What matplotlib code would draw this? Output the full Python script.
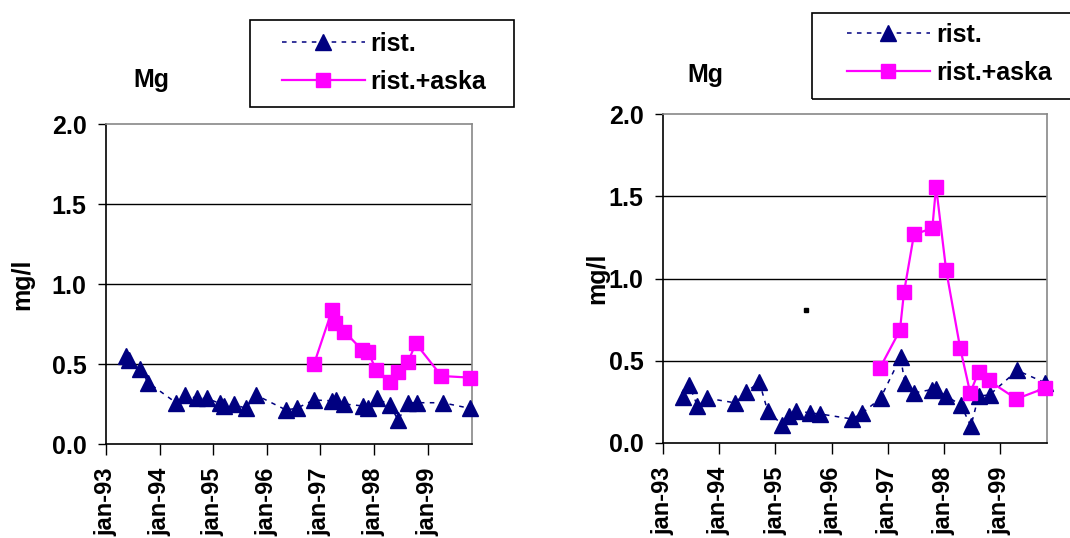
import matplotlib
matplotlib.use("Agg")
import matplotlib.pyplot as plt
from matplotlib.patches import Rectangle

plt.rcParams["font.family"] = ["Liberation Sans", "DejaVu Sans"]
plt.rcParams["font.weight"] = "bold"

# values, x in decimal years
left_rist_x = [1993.37, 1993.435, 1993.634, 1993.79, 1994.306, 1994.474, 1994.704,
               1994.878, 1995.127, 1995.208, 1995.394, 1995.606, 1995.80, 1996.358,
               1996.557, 1996.88, 1997.21, 1997.29, 1997.44, 1997.79, 1997.89,
               1998.05, 1998.30, 1998.45, 1998.64, 1998.80, 1999.28, 1999.79]
left_rist_y = [0.55, 0.525, 0.467, 0.383, 0.258, 0.306, 0.285,
               0.285, 0.254, 0.238, 0.248, 0.223, 0.306, 0.213,
               0.223, 0.275, 0.27, 0.275, 0.25, 0.238, 0.223,
               0.285, 0.244, 0.15, 0.258, 0.258, 0.258, 0.223]
left_aska_x = [1996.88, 1997.22, 1997.28, 1997.45, 1997.78, 1997.89, 1998.04,
               1998.30, 1998.45, 1998.64, 1998.78, 1999.26, 1999.79]
left_aska_y = [0.498, 0.838, 0.754, 0.702, 0.588, 0.577, 0.463,
               0.39, 0.452, 0.515, 0.629, 0.425, 0.415]

right_rist_x = [1993.357, 1993.464, 1993.613, 1993.79, 1994.286, 1994.476, 1994.714,
                1994.863, 1995.119, 1995.238, 1995.369, 1995.607, 1995.786, 1996.363,
                1996.548, 1996.869, 1997.226, 1997.30, 1997.47, 1997.78, 1997.857,
                1998.036, 1998.298, 1998.476, 1998.613, 1998.81, 1999.30, 1999.80]
right_rist_y = [0.278, 0.354, 0.224, 0.272, 0.244, 0.309, 0.370,
                0.193, 0.112, 0.163, 0.197, 0.183, 0.177, 0.146,
                0.183, 0.272, 0.522, 0.366, 0.305, 0.325, 0.329,
                0.285, 0.232, 0.102, 0.285, 0.293, 0.441, 0.366]
right_aska_x = [1996.857, 1997.214, 1997.286, 1997.464, 1997.79, 1997.857, 1998.036,
                1998.286, 1998.464, 1998.613, 1998.79, 1999.286, 1999.786]
right_aska_y = [0.455, 0.685, 0.915, 1.268, 1.305, 1.559, 1.051,
                0.577, 0.305, 0.431, 0.380, 0.268, 0.333]

# stray dot in the right chart
stray_x = [1995.54]
stray_y = [0.81]

year_ticks = [1993, 1994, 1995, 1996, 1997, 1998, 1999]
year_labels = ["jan-93", "jan-94", "jan-95", "jan-96", "jan-97", "jan-98", "jan-99"]
y_ticks = [0.0, 0.5, 1.0, 1.5, 2.0]
series_names = ["rist.", "rist.+aska"]

W, H = 1070, 538
fig = plt.figure(figsize=(W / 100, H / 100), dpi=100)


def px(x0, y0, x1, y1):
    # pixel box -> figure fraction rect
    return [x0 / W, 1 - y1 / H, (x1 - x0) / W, (y1 - y0) / H]


def draw_panel(rect, rx, ry, ax_x, ay, title_xy, ylabel_x, box, handle_xy):
    ax = fig.add_axes(rect)
    l1, = ax.plot(rx, ry, color="#000080", ls=(0, (3, 3.5)), lw=1.1,
                  marker="^", ms=11, mec="#000080", clip_on=False, zorder=3)
    l2, = ax.plot(ax_x, ay, color="#FF00FF", lw=1.6,
                  marker="s", ms=10, clip_on=False, zorder=4)
    ax.set_xlim(1993, 1999.83)
    ax.set_ylim(0, 2.0)
    ax.set_yticks(y_ticks)
    ax.set_yticklabels([f"{v:.1f}" for v in y_ticks], fontsize=18, fontweight="bold")
    ax.set_xticks(year_ticks)
    ax.set_xticklabels(year_labels, rotation=90, fontsize=17, fontweight="bold",
                       va="top", ha="center")
    ax.tick_params(axis="y", direction="out", length=6, width=1, pad=8)
    ax.tick_params(axis="x", direction="out", length=8, width=1, pad=9)
    for y in y_ticks[1:-1]:
        ax.axhline(y, color="black", lw=1, zorder=1)
    ax.spines["left"].set_color("black")
    ax.spines["bottom"].set_color("black")
    ax.spines["top"].set_color("#888888")
    ax.spines["right"].set_color("#888888")
    for s in ax.spines.values():
        s.set_linewidth(1.2)
    fig.text(title_xy[0] / W, 1 - title_xy[1] / H, "Mg", fontsize=18,
             fontweight="bold", ha="center", va="center")
    fig.text(ylabel_x / W, rect[1] + rect[3] / 2, "mg/l", fontsize=18,
             fontweight="bold", rotation=90, ha="center", va="center")
    bx0, by0, bx1, by1 = box
    fig.add_artist(Rectangle((bx0 / W, 1 - by1 / H), (bx1 - bx0) / W, (by1 - by0) / H,
                             transform=fig.transFigure, fill=False,
                             edgecolor="black", lw=1.2))
    fig.legend([l1, l2], series_names, loc="center left",
               bbox_to_anchor=(handle_xy[0] / W, 1 - handle_xy[1] / H),
               frameon=False, prop={"weight": "bold", "size": 18},
               handlelength=3.3, handletextpad=0.25, borderpad=0,
               borderaxespad=0, labelspacing=0.55)
    return ax


draw_panel(px(106, 124, 472, 444), left_rist_x, left_rist_y, left_aska_x, left_aska_y,
           (151, 80), 22, (250, 20, 514, 107), (282, 63))
ax2 = draw_panel(px(663, 114, 1047, 443), right_rist_x, right_rist_y,
                 right_aska_x, right_aska_y, (705, 75), 597,
                 (812, 13, 1080, 99), (847, 54))
ax2.plot(stray_x, stray_y, ls="none", marker="s", ms=2.5, color="black")

fig.savefig("out.png", dpi=100)
